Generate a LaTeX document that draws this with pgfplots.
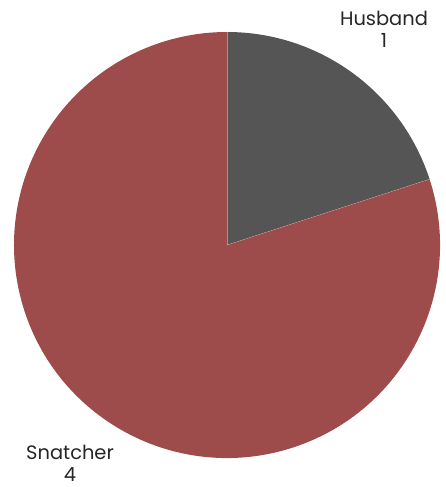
\documentclass[border=0pt]{standalone}
\usepackage{pgfplots}
\usepackage{pgfplotstable}
\pgfplotsset{compat=1.18}
\usepackage{fontspec}
\setmainfont{Poppins}

\definecolor{husband}{HTML}{555555}
\definecolor{snatcher}{HTML}{9E4B4B}

\pgfplotstableread{
label value
Husband 1
Snatcher 4
}\piedata

\begin{document}
\begin{tikzpicture}
\pgfplotstablegetelem{0}{value}\of\piedata \let\va\pgfplotsretval
\pgfplotstablegetelem{1}{value}\of\piedata \let\vb\pgfplotsretval
\pgfmathsetmacro{\tot}{\va+\vb}
\pgfmathsetmacro{\aa}{360*\va/\tot}
\pgfmathsetmacro{\ab}{360*\vb/\tot}
\begin{axis}[
    at={(0,0)}, anchor=south west,
    x=1bp, y=1bp,
    xmin=0, xmax=446, ymin=0, ymax=487,
    scale only axis,
    hide axis,
    clip=false,
]
% wedges, clockwise from 12 o'clock
\fill[husband] (axis cs:227,242) -- ++(90:213bp) arc[start angle=90, delta angle=-\aa, radius=213bp] -- cycle;
\fill[snatcher] (axis cs:227,242) -- ++(90-\aa:213bp) arc[start angle=90-\aa, delta angle=-\ab, radius=213bp] -- cycle;
\draw[white, opacity=0.4, line width=0.3pt] (axis cs:227,242) -- ++(90:213bp);
\draw[white, opacity=0.4, line width=0.3pt] (axis cs:227,242) -- ++(90-\aa:213bp);

\node[align=center, font=\fontsize{19.5}{22}\selectfont, color=black!85] at (axis cs:384,458) {Husband\\\va};
\node[align=center, font=\fontsize{19.5}{22}\selectfont, color=black!85] at (axis cs:70,24) {Snatcher\\\vb};
\end{axis}
\pgfresetboundingbox
\path[use as bounding box] (0,0) rectangle (446bp,487bp);
\end{tikzpicture}
\end{document}
